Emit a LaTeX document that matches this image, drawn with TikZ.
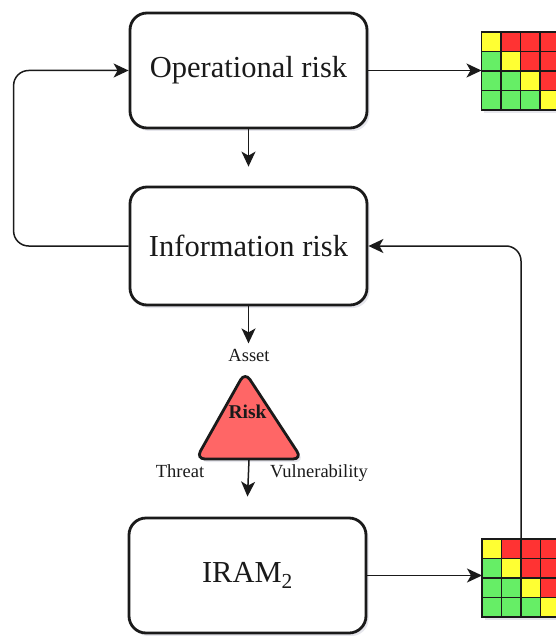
\documentclass[tikz,border=0pt]{standalone}
\usepackage{fontspec}
\setmainfont{Liberation Serif}
\usetikzlibrary{arrows.meta,shadows}

\definecolor{cellY}{HTML}{FFFF33}
\definecolor{cellR}{HTML}{FF3333}
\definecolor{cellG}{HTML}{66EE66}
\definecolor{triFill}{HTML}{FF6666}
\definecolor{ink}{HTML}{1A1A1A}
\definecolor{shade}{HTML}{8C8FA8}

\tikzset{
  softshadow/.style={drop shadow={opacity=0.22, shadow xshift=2.5pt, shadow yshift=-3pt, fill=shade}},
  stagebox/.style={draw=ink, line width=2.8pt, rounded corners=17pt, fill=white,
    minimum width=237pt, minimum height=115pt, inner sep=0pt,
    font=\fontsize{30.5}{34}\selectfont, text=ink, softshadow},
  link/.style={draw=ink, line width=1.5pt, -{Stealth[length=15pt,width=14pt,inset=4pt]}},
  tag/.style={font=\fontsize{18.5}{20}\selectfont, text=ink, inner sep=0pt, anchor=base},
  matrixbox/.style={minimum width=78pt, minimum height=78pt, inner sep=0pt, outer sep=0pt,
    fill=white, softshadow},
  cell/.style={draw=ink, line width=1.7pt},
}

\begin{document}
\begin{tikzpicture}[x=1pt,y=-1pt]
  \useasboundingbox (0,0) rectangle (555,636);

  % process stages
  \node[stagebox, minimum height=115pt] (op)   at (248.5,70.5) {Operational risk};
  \node[stagebox, minimum height=118pt] (info) at (248.5,246)  {Information risk};
  \node[stagebox, minimum height=115pt] (iram) at (247.5,575.5) {IRAM\textsubscript{2}};

  % risk matrices (4x4, diagonal yellow)
  \node[matrixbox] (m1) at (520.5,71)  {};
  \node[matrixbox] (m2) at (521,578) {};
  \foreach \mat in {m1,m2}{
    \foreach \row [count=\r from 0] in {{Y,R,R,R},{G,Y,R,R},{G,G,Y,R},{G,G,G,Y}}{
      \foreach \col [count=\c from 0] in \row {
        \draw[cell, fill=cell\col]
          ([xshift=\c*19.5pt, yshift=-\r*19.5pt]\mat.north west) rectangle ++(19.5,19.5);
      }
    }
  }

  % risk triangle
  \coordinate (apex) at (245,372);
  \coordinate (bl)   at (196,459);
  \coordinate (br)   at (302,459);
  \coordinate (bm)   at (249,460);
  \draw[draw=ink, line width=2.8pt, fill=triFill, rounded corners=9pt, softshadow]
    (apex) -- (br) -- (bl) -- cycle;
  \node[tag, font=\fontsize{19.5}{20}\selectfont\bfseries] (risk) at (247.5,418) {Risk};
  \node[tag] (asset)  at (249,361) {Asset};
  \node[tag] (threat) at (180,477) {Threat};
  \node[tag] (vuln)   at (319,477) {Vulnerability};

  % connectors
  \draw[link] (op.south) -- ([yshift=19pt]info.north);
  \draw[link] (info.south) -- ([yshift=-37pt]info.south);
  \draw[link] (bm) -- ([yshift=20pt]iram.north);
  \draw[link, rounded corners=15pt] (info.west) -- ++(-115,0) |- (op.west);
  \draw[link] (op.east) -- (op.east -| m1.west);
  \draw[link] (iram.east) -- (iram.east -| m2.west);
  \draw[link, rounded corners=15pt] (m2.north) |- (info.east);
\end{tikzpicture}
\end{document}
